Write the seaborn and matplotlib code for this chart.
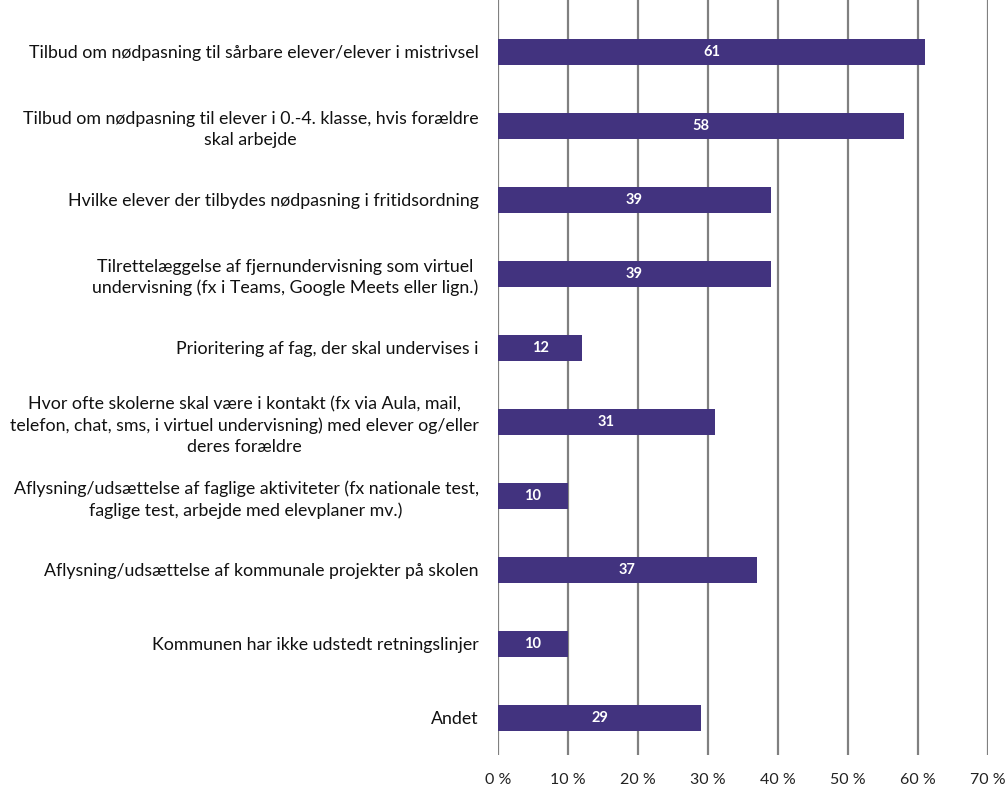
import matplotlib
matplotlib.use("Agg")
import matplotlib.pyplot as plt
import seaborn as sns
import pandas as pd

categories = [
    "Tilbud om nødpasning til sårbare elever/elever i mistrivsel",
    "Tilbud om nødpasning til elever i 0.-4. klasse, hvis forældre\nskal arbejde",
    "Hvilke elever der tilbydes nødpasning i fritidsordning",
    "Tilrettelæggelse af fjernundervisning som virtuel\nundervisning (fx i Teams, Google Meets eller lign.)",
    "Prioritering af fag, der skal undervises i",
    "Hvor ofte skolerne skal være i kontakt (fx via Aula, mail,\ntelefon, chat, sms, i virtuel undervisning) med elever og/eller\nderes forældre",
    "Aflysning/udsættelse af faglige aktiviteter (fx nationale test,\nfaglige test, arbejde med elevplaner mv.)",
    "Aflysning/udsættelse af kommunale projekter på skolen",
    "Kommunen har ikke udstedt retningslinjer",
    "Andet",
]
values = [61, 58, 39, 39, 12, 31, 10, 37, 10, 29]
x_ticks = [0, 10, 20, 30, 40, 50, 60, 70]
x_tick_labels = ["0 %", "10 %", "20 %", "30 %", "40 %", "50 %", "60 %", "70 %"]

sns.set_theme(style="white")
plt.rcParams["font.family"] = ["Lato", "DejaVu Sans"]

df = pd.DataFrame({"cat": categories, "val": values})

fig = plt.figure(figsize=(10.08, 7.87), dpi=100)
ax = fig.add_axes([498 / 1008, 1 - 755 / 787, 490 / 1008, 755 / 787])

sns.barplot(data=df, x="val", y="cat", color="#42337F", width=0.35,
            saturation=1, linewidth=0, ax=ax, zorder=3)

ax.set_xlim(0, 70)
ax.set_ylim(9.5, -0.7)
ax.set_xticks(x_ticks)
ax.set_xticklabels(x_tick_labels, fontsize=11.5, color="#222222")
ax.set_xlabel("")
ax.set_ylabel("")
ax.tick_params(axis="x", length=0, pad=13)
ax.tick_params(axis="y", length=0, pad=14)
for lbl in ax.get_yticklabels():
    lbl.set_fontsize(12.8)
    lbl.set_color("#111111")
    lbl.set_multialignment("center")
    lbl.set_linespacing(1.35)

for s in ax.spines.values():
    s.set_visible(False)

for x in x_ticks:
    ax.axvline(x, color="#808080", lw=1.6, zorder=1)

for i, v in enumerate(values):
    ax.text(v / 2, i, str(v), ha="center", va="center", color="white",
            fontsize=10.5, fontweight="bold", zorder=4)

fig.savefig("out.png", dpi=100)
